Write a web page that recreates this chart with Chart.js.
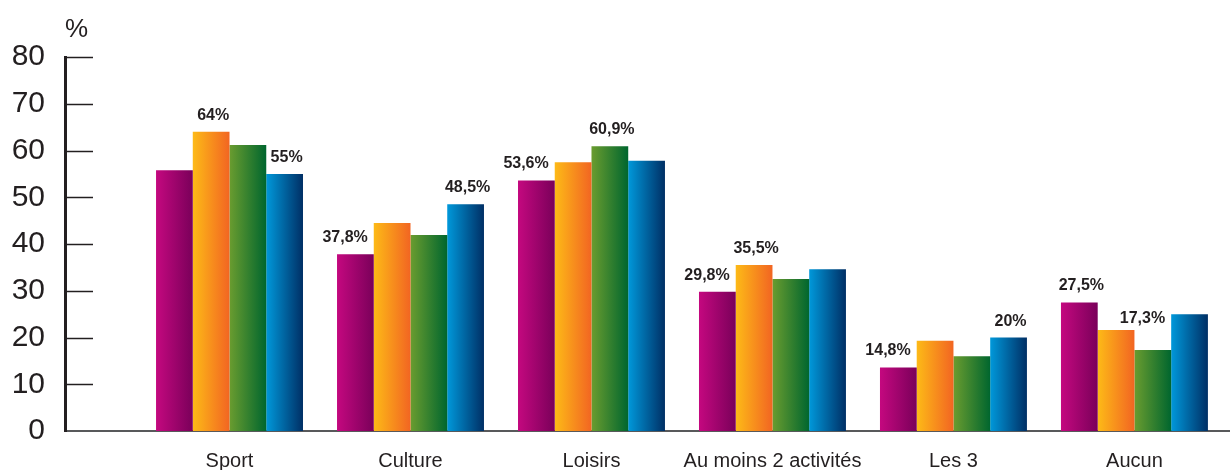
<!DOCTYPE html>
<html>
<head>
<meta charset="utf-8">
<script src="https://cdn.jsdelivr.net/npm/chart.js@4/dist/chart.umd.min.js"></script>
<style>
  html, body { margin: 0; padding: 0; background: #ffffff; }
  #wrap { width: 1230px; height: 470px; position: relative; }
</style>
</head>
<body>
<div id="wrap"><canvas id="c" width="1230" height="470"></canvas></div>
<script>
// ---- data ----
const categories = ['Sport', 'Culture', 'Loisirs', 'Au moins 2 activités', 'Les 3', 'Aucun'];
const seriesMagenta = [55.8, 37.8, 53.6, 29.8, 13.6, 27.5];
const seriesOrange  = [64.0, 44.5, 57.5, 35.5, 19.3, 21.6];
const seriesGreen   = [61.2, 41.9, 60.9, 32.5, 16.0, 17.3];
const seriesBlue    = [55.0, 48.5, 57.8, 34.6, 20.0, 25.0];
const labelsMagenta = [null, '37,8%', '53,6%', '29,8%', '14,8%', '27,5%'];
const labelsOrange  = ['64%', null, null, '35,5%', null, null];
const labelsGreen   = [null, null, '60,9%', null, null, '17,3%'];
const labelsBlue    = ['55%', '48,5%', null, null, '20%', null];
const yTicks = [0, 10, 20, 30, 40, 50, 60, 70, 80];
const yUnit = '%';

// ---- styles ----
const gradients = [
  ['#C4087F', '#7A005A'],
  ['#FDBA17', '#F26522'],
  ['#6A9C2F', '#00662E'],
  ['#0098DA', '#002F65']
];
const CAT_PCT = 0.812;
const TEXT = '#231F20';
const FONT = '"Liberation Sans", Arial, sans-serif';

function barFill(ctx) {
  const stops = gradients[ctx.datasetIndex];
  const chart = ctx.chart;
  const xs = chart.scales && chart.scales.x;
  if (ctx.type !== 'data' || !xs || !isFinite(xs.getPixelForValue(1))) return stops[0];
  const center = xs.getPixelForValue(ctx.dataIndex);
  const spacing = xs.getPixelForValue(1) - xs.getPixelForValue(0);
  const groupW = spacing * CAT_PCT;
  const barW = groupW / 4;
  const left = center - groupW / 2 + ctx.datasetIndex * barW;
  const g = chart.ctx.createLinearGradient(left, 0, left + barW, 0);
  g.addColorStop(0, stops[0]);
  g.addColorStop(1, stops[1]);
  return g;
}

function toPoints(arr) { return arr.map((v, i) => ({ x: i, y: v })); }

const allLabels = [labelsMagenta, labelsOrange, labelsGreen, labelsBlue];

const decorPlugin = {
  id: 'decor',
  afterDatasetsDraw(chart) {
    const ctx = chart.ctx;
    const area = chart.chartArea;
    const ys = chart.scales.y;
    ctx.save();
    // inward tick marks
    ctx.strokeStyle = TEXT;
    ctx.lineWidth = 1.5;
    ys.ticks.forEach(t => {
      if (t.value === 0) return;
      const y = Math.round(ys.getPixelForValue(t.value)) + 0.5;
      ctx.beginPath();
      ctx.moveTo(area.left, y);
      ctx.lineTo(area.left + 28, y);
      ctx.stroke();
    });
    // unit label
    ctx.fillStyle = TEXT;
    ctx.font = '26px ' + FONT;
    ctx.textAlign = 'left';
    ctx.textBaseline = 'alphabetic';
    ctx.fillText(yUnit, area.left, 37);
    // value labels
    ctx.font = 'bold 16px ' + FONT;
    chart.data.datasets.forEach((ds, di) => {
      const meta = chart.getDatasetMeta(di);
      meta.data.forEach((el, i) => {
        const txt = allLabels[di][i];
        if (!txt) return;
        const w = ctx.measureText(txt).width;
        const barRight = el.x + el.width / 2;
        let x = el.x - w / 2 + 2;
        let baseY = el.y - 12;
        if (di < 3) {
          const next = chart.getDatasetMeta(di + 1).data[i];
          if (next && next.y < baseY + 4 && x + w > barRight - 1) {
            x = barRight - 6 - w;
          }
        }
        if (di > 0) {
          const prev = chart.getDatasetMeta(di - 1).data[i];
          if (prev && x < prev.x + prev.width / 2 && prev.y < baseY + 2) {
            baseY = prev.y - 7;
          }
        }
        ctx.fillText(txt, x, baseY);
      });
    });
    ctx.restore();
  }
};

new Chart(document.getElementById('c'), {
  type: 'bar',
  data: {
    datasets: [
      { data: toPoints(seriesMagenta), backgroundColor: barFill },
      { data: toPoints(seriesOrange), backgroundColor: barFill },
      { data: toPoints(seriesGreen), backgroundColor: barFill },
      { data: toPoints(seriesBlue), backgroundColor: barFill }
    ]
  },
  options: {
    responsive: false,
    animation: false,
    devicePixelRatio: 1,
    datasets: {
      bar: {
        borderWidth: 0,
        categoryPercentage: CAT_PCT,
        barPercentage: 1.0
      }
    },
    layout: { padding: { top: 57, left: 12, right: 0, bottom: 0 } },
    plugins: {
      colors: { enabled: false },
      legend: { display: false },
      tooltip: { enabled: false },
      title: { display: false }
    },
    scales: {
      x: {
        type: 'linear',
        offset: false,
        min: -0.909,
        max: 5.528,
        afterBuildTicks: (scale) => { scale.ticks = categories.map((_, i) => ({ value: i })); },
        afterFit: (scale) => { scale.height = 39; },
        grid: { display: false, drawTicks: false },
        border: { display: true, color: '#58595B', width: 2 },
        ticks: {
          autoSkip: false,
          maxRotation: 0,
          minRotation: 0,
          padding: 18,
          color: TEXT,
          font: { family: FONT, size: 20 },
          callback: (v) => categories[v] !== undefined ? categories[v] : ''
        }
      },
      y: {
        min: 0,
        max: 80,
        afterBuildTicks: (scale) => { scale.ticks = yTicks.map(v => ({ value: v })); },
        afterFit: (scale) => { scale.width = 53; },
        grid: { display: false, drawTicks: false },
        border: { display: true, color: TEXT, width: 3 },
        ticks: {
          padding: 20,
          color: TEXT,
          font: { family: FONT, size: 30 }
        }
      }
    }
  },
  plugins: [decorPlugin]
});
</script>
</body>
</html>
